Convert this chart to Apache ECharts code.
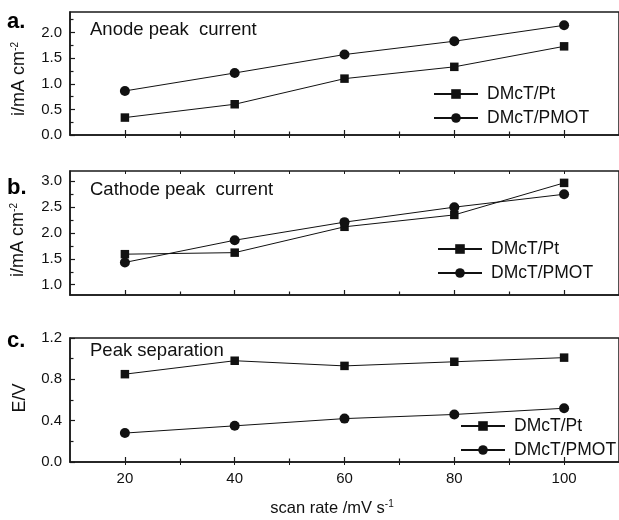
<!DOCTYPE html>
<html><head><meta charset="utf-8">
<script src="https://cdn.jsdelivr.net/npm/echarts@6/dist/echarts.min.js"></script>
<style>html,body{margin:0;padding:0;background:#fff}#c{width:619px;height:520px}</style>
</head><body><div id="c"></div>
<script>
// ---- data ----
const scanRates = [20, 40, 60, 80, 100];
const seriesNames = ['DMcT/Pt', 'DMcT/PMOT'];
const anodePt = [0.34, 0.60, 1.10, 1.33, 1.73];
const anodePMOT = [0.86, 1.21, 1.57, 1.83, 2.14];
const cathodePt = [1.59, 1.62, 2.12, 2.35, 2.97];
const cathodePMOT = [1.43, 1.86, 2.21, 2.50, 2.75];
const sepPt = [0.85, 0.98, 0.93, 0.97, 1.01];
const sepPMOT = [0.28, 0.35, 0.42, 0.46, 0.52];
const xTickLabels = [20, 40, 60, 80, 100];
const xMinorTicks = [30, 50, 70, 90];
const xTopTicks = [20, 30, 40, 50, 60, 70, 80, 90, 100];
const yTicksA = [0, 0.5, 1.0, 1.5, 2.0];
const yMinorA = [0.25, 0.75, 1.25, 1.75, 2.25];
const yTicksB = [1.0, 1.5, 2.0, 2.5, 3.0];
const yMinorB = [1.25, 1.75, 2.25, 2.75];
const yTicksC = [0, 0.4, 0.8, 1.2];
const yMinorC = [0.2, 0.6, 1.0];
const panelTitles = ['Anode peak  current', 'Cathode peak  current', 'Peak separation'];
const panelLetters = ['a.', 'b.', 'c.'];

const FONT = "'Liberation Sans', Arial, Helvetica, sans-serif";
const INK = '#111';
const AX = '#1a1a1a';

const panels = [
  {top: 12, height: 123, ymin: 0, ymax: 2.4, ticks: yTicksA, minor: yMinorA, pt: anodePt, pm: anodePMOT,
   legendLeft: 433, legendTop: 85, titleY: 30, letterY: 19, yName: 'i/mA cm{sup|-2}', yNameX: 19, yNameY: 79},
  {top: 171, height: 124, ymin: 0.8, ymax: 3.2, ticks: yTicksB, minor: yMinorB, pt: cathodePt, pm: cathodePMOT,
   legendLeft: 437, legendTop: 240, titleY: 190, letterY: 185, yName: 'i/mA cm{sup|-2}', yNameX: 18, yNameY: 240},
  {top: 338, height: 124, ymin: 0, ymax: 1.2, ticks: yTicksC, minor: yMinorC, pt: sepPt, pm: sepPMOT,
   legendLeft: 460, legendTop: 417, titleY: 351, letterY: 338, yName: 'E/V', yNameX: 20, yNameY: 398}
];

const grid = [], xAxis = [], yAxis = [], series = [], legend = [], graphic = [];
panels.forEach((p, i) => {
  grid.push({left: 70, top: p.top, width: 551, height: p.height, show: true,
    borderColor: AX, borderWidth: 1.5, backgroundColor: 'transparent'});
  xAxis.push({gridIndex: i, type: 'value', min: 10, max: 110, position: 'bottom',
    axisLine: {show: true, onZero: false, lineStyle: {color: AX, width: 1.5}},
    axisTick: {show: true, inside: true, length: 5, customValues: xTickLabels, lineStyle: {color: AX, width: 1.2}},
    axisLabel: {show: i === 2, customValues: xTickLabels, fontSize: 15, color: INK, fontFamily: FONT, margin: 9},
    splitLine: {show: false}});
  xAxis.push({gridIndex: i, type: 'value', min: 10, max: 110, position: 'bottom',
    axisLine: {show: false}, axisLabel: {show: false}, splitLine: {show: false},
    axisTick: {show: true, inside: true, length: 3.5, customValues: xMinorTicks, lineStyle: {color: AX, width: 1.2}}});
  xAxis.push({gridIndex: i, type: 'value', min: 10, max: 110, position: 'top',
    axisLine: {show: false}, axisLabel: {show: false}, splitLine: {show: false},
    axisTick: {show: true, inside: true, length: 3, customValues: xTopTicks, lineStyle: {color: AX, width: 1}}});
  yAxis.push({gridIndex: i, type: 'value', min: p.ymin, max: p.ymax, position: 'left',
    axisLine: {show: true, onZero: false, lineStyle: {color: AX, width: 1.5}},
    axisTick: {show: true, inside: true, length: 5, customValues: p.ticks, lineStyle: {color: AX, width: 1.2}},
    axisLabel: {show: true, customValues: p.ticks, fontSize: 15, color: INK, fontFamily: FONT, margin: 8,
      formatter: v => Number(v).toFixed(1)},
    splitLine: {show: false}});
  yAxis.push({gridIndex: i, type: 'value', min: p.ymin, max: p.ymax, position: 'left',
    axisLine: {show: false}, axisLabel: {show: false}, splitLine: {show: false},
    axisTick: {show: true, inside: true, length: 3.5, customValues: p.minor, lineStyle: {color: AX, width: 1.2}}});

  const mk = (name, vals, sym, size) => ({
    name, type: 'line', xAxisIndex: 3 * i, yAxisIndex: 2 * i,
    data: scanRates.map((x, k) => [x, vals[k]]),
    symbol: sym, symbolSize: size, showSymbol: true,
    lineStyle: {color: INK, width: 1}, itemStyle: {color: INK},
    emphasis: {disabled: true}, animation: false, z: 3
  });
  series.push(mk(seriesNames[0], p.pt, 'rect', 8.5));
  series.push(mk(seriesNames[1], p.pm, 'circle', 10));

  legend.push({orient: 'vertical', left: p.legendLeft, top: p.legendTop, padding: 0, itemWidth: 44, itemHeight: 12,
    itemGap: 6, selectedMode: false, data: seriesNames,
    textStyle: {fontSize: 17.5, color: INK, fontFamily: FONT, padding: [0, 0, 0, 4]}});

  graphic.push({type: 'text', left: 90, top: p.titleY - 10,
    style: {text: panelTitles[i], fontSize: 18.5, fill: INK, fontFamily: FONT}});
  graphic.push({type: 'text', left: 7, top: p.letterY - 8,
    style: {text: panelLetters[i], fontSize: 22, fontWeight: 'bold', fill: '#000', fontFamily: FONT}});
  graphic.push({type: 'text', x: p.yNameX, y: p.yNameY, rotation: Math.PI / 2,
    style: {text: p.yName, fontSize: 18, fill: INK, fontFamily: FONT, align: 'center', verticalAlign: 'middle',
      rich: {sup: {fontSize: 10, verticalAlign: 'top', fill: INK, fontFamily: FONT}}}});
});

graphic.push({type: 'text', x: 332, y: 508,
  style: {text: 'scan rate /mV s{sup|-1}', fontSize: 16.5, fill: INK, fontFamily: FONT, align: 'center', verticalAlign: 'middle',
    rich: {sup: {fontSize: 10, verticalAlign: 'top', fill: INK, fontFamily: FONT}}}});

const chart = echarts.init(document.getElementById('c'), null, {renderer: 'canvas'});
chart.setOption({
  backgroundColor: '#fff', animation: false,
  textStyle: {fontFamily: FONT},
  grid, xAxis, yAxis, series, legend, graphic
});
</script></body></html>
